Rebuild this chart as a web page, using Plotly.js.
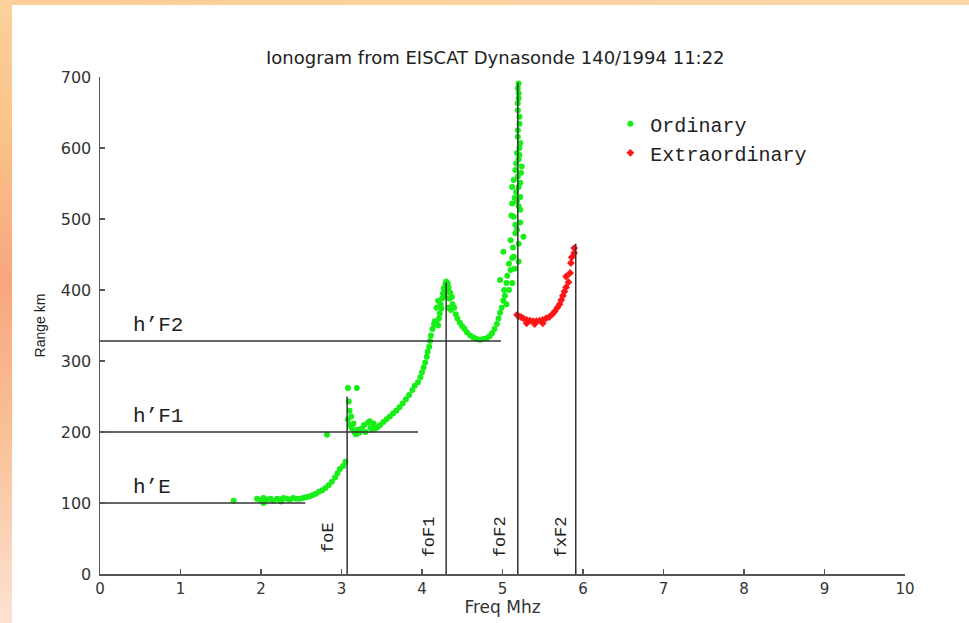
<!DOCTYPE html>
<html>
<head>
<meta charset="utf-8">
<script src="https://cdn.plot.ly/plotly-3.0.1.min.js"></script>
<style>
  html, body { margin:0; padding:0; background:#ffffff; width:969px; height:623px; overflow:hidden; }
  #frameTop { position:absolute; left:0; top:0; width:969px; height:5px;
    background:linear-gradient(to right, #fbcd96, #fdd6a8); }
  #frameLeft { position:absolute; left:0; top:0; width:12px; height:623px;
    background:linear-gradient(to bottom, #fbd19a 0%, #fac28a 22%, #f8a67d 45%, #f9bf93 68%, #fce2d3 100%); }
  #chart { position:absolute; left:12px; top:5px; width:957px; height:618px; }
</style>
</head>
<body>
<div id="frameTop"></div>
<div id="frameLeft"></div>
<div id="chart"></div>
<script>
// ---- Ordinary (O-mode) echoes ----
const ordFreq = [
  1.66,
  1.95,2.0,2.03,2.03,2.08,2.12,2.15,2.2,2.24,2.25,2.28,2.32,2.36,2.4,2.44,2.48,2.52,2.56,2.6,2.64,2.68,2.72,2.76,2.8,2.84,2.88,2.92,2.95,2.98,3.02,3.05,
  2.82,
  3.08,3.19,3.09,3.1,3.08,3.12,3.1,3.13,3.15,3.16,3.18,3.2,3.22,3.25,3.28,3.3,3.33,3.36,3.38,3.42,3.45,3.48,3.52,3.35,3.4,
  3.56,3.6,3.64,3.68,3.72,3.76,3.8,3.84,3.88,3.91,3.95,3.98,4.0,4.02,4.04,4.06,4.07,4.09,4.1,4.11,4.13,4.15,4.18,4.21,4.22,4.24,4.23,4.25,4.26,4.27,4.29,4.3,
  4.32,4.31,4.33,4.35,4.34,4.37,4.38,4.36,4.4,4.42,4.44,4.47,4.5,4.53,4.56,4.6,4.64,4.68,4.72,4.76,4.8,4.84,4.87,4.9,4.93,4.95,4.97,4.99,5.01,5.03,
  4.2,4.18,4.28,4.33,4.2,4.16,
  4.97,5.05,5.02,5.06,5.1,5.08,5.01,5.12,5.14,5.1,5.26,5.18,5.14,5.16,5.22,5.12,5.2,5.22,5.17,5.12,5.22,5.19,5.16,5.24,5.2,5.18,5.21,5.22,5.19,5.19,5.21,5.21,5.19,5.19,5.2,5.2,5.19,5.2,
  5.05,5.08,5.12,5.15,5.2,5.13,5.2,5.16,5.22,5.11,5.18,5.15,5.2,5.14,5.23,5.17,5.21
];
const ordRange = [
  103,
  106,104,107,100,105,106,103,106,105,102,107,106,105,107,106,106,107,108,109,111,113,116,118,121,125,130,136,142,148,152,158,
  196,
  262,262,243,230,218,222,210,205,212,200,197,203,199,205,210,200,213,206,203,205,207,210,214,215,212,
  218,222,226,230,235,240,246,252,259,265,270,277,284,291,298,306,313,320,328,336,345,352,355,360,367,374,380,388,395,402,408,412,
  409,398,403,396,388,390,380,372,375,366,360,354,349,345,340,336,333,331,330,331,332,335,339,345,352,360,368,375,385,392,
  385,375,392,375,350,356,
  414,410,400,420,428,437,454,445,447,470,475,485,503,492,513,522,518,531,538,545,551,560,569,574,584,593,600,607,616,625,634,644,653,663,670,677,684,691,
  380,400,410,430,440,460,465,480,495,505,525,530,545,555,565,578,590
];
// ---- Extraordinary (X-mode) echoes ----
const extFreq = [5.18,5.2,5.23,5.26,5.3,5.34,5.38,5.42,5.46,5.5,5.54,5.58,5.62,5.65,5.68,5.71,5.73,5.75,5.77,5.79,5.82,5.79,5.84,5.85,5.86,5.89,5.89,5.3,5.4,5.5];
const extRange = [365,363,362,360,358,357,356,356,357,358,360,362,366,370,375,380,386,392,398,404,411,419,424,438,446,452,459,353,352,353];

// ---- Virtual heights (h') and critical frequencies ----
const layerNames = ["h’E", "h’F1", "h’F2"];
const layerHeights = [100, 200, 328];
const layerLineEnds = [2.55, 3.95, 4.98];
const critNames = ["foE", "foF1", "foF2", "fxF2"];
const critFreqs = [3.07, 4.30, 5.19, 5.91];
const critTops = [250, 411, 692, 465];

const xTicks = [0,1,2,3,4,5,6,7,8,9,10];
const yTicks = [0,100,200,300,400,500,600,700];

const green = '#18ee18', red = '#ff1515';
const monoFont = 'Liberation Mono, Courier New, monospace';
const sansFont = 'DejaVu Sans, Arial, sans-serif';

// build line segments from the arrays
const hx = [], hy = [];
layerHeights.forEach((h, i) => { hx.push(0, layerLineEnds[i], null); hy.push(h, h, null); });
const vx = [], vy = [];
critFreqs.forEach((f, i) => { vx.push(f, f, null); vy.push(0, critTops[i], null); });

const traces = [
  { x: ordFreq, y: ordRange, type: 'scatter', mode: 'markers', name: 'Ordinary',
    marker: { color: green, size: 6, symbol: 'circle' }, hoverinfo: 'x+y' },
  { x: extFreq, y: extRange, type: 'scatter', mode: 'markers', name: 'Extraordinary',
    marker: { color: red, size: 6, symbol: 'diamond' }, hoverinfo: 'x+y' },
  { x: hx, y: hy, type: 'scatter', mode: 'lines', showlegend: false, hoverinfo: 'skip',
    line: { color: '#333', width: 1.5 } },
  { x: vx, y: vy, type: 'scatter', mode: 'lines', showlegend: false, hoverinfo: 'skip',
    line: { color: '#333', width: 1.5 } }
];

const annotations = [];
layerNames.forEach((n, i) => annotations.push({
  x: 0.38, y: layerHeights[i] + 22, xref: 'x', yref: 'y', text: n, showarrow: false,
  xanchor: 'left', yanchor: 'middle', font: { family: monoFont, size: 21, color: '#222' }
}));
const critLabelOffsets = [0.24, 0.21, 0.22, 0.18];
critNames.forEach((n, i) => annotations.push({
  x: critFreqs[i] - critLabelOffsets[i], y: 52, xref: 'x', yref: 'y', text: n, showarrow: false,
  textangle: -90, xanchor: 'center', yanchor: 'middle', font: { family: monoFont, size: 17, color: '#222' }
}));

const layout = {
  width: 957, height: 618,
  margin: { l: 87.5, r: 64, t: 72, b: 49 },
  paper_bgcolor: '#ffffff', plot_bgcolor: '#ffffff',
  showlegend: true,
  title: { text: 'Ionogram from EISCAT Dynasonde 140/1994 11:22',
    font: { family: sansFont, size: 18, color: '#222' },
    x: 0.505, xanchor: 'center', y: 0.914, yref: 'container', yanchor: 'middle' },
  xaxis: { range: [0, 10], tickvals: xTicks, ticks: 'inside', ticklen: 5, tickwidth: 1.5, tickcolor: '#555',
    showline: true, linecolor: '#555', linewidth: 1.5, showgrid: false, zeroline: false,
    tickfont: { family: sansFont, size: 15, color: '#333' },
    title: { text: 'Freq Mhz', font: { family: sansFont, size: 17, color: '#333' }, standoff: 1 } },
  yaxis: { range: [0, 700], tickvals: yTicks, ticks: 'inside', ticklen: 5, tickwidth: 1.5, tickcolor: '#555',
    showline: true, linecolor: '#555', linewidth: 1.5, showgrid: false, zeroline: false,
    ticklabelstandoff: 4,
    tickfont: { family: sansFont, size: 16, color: '#333' },
    title: { text: 'Range km', font: { family: 'Liberation Sans, Arial, sans-serif', size: 14, color: '#222' }, standoff: 12 } },
  legend: { x: 0.634, y: 0.945, xanchor: 'left', yanchor: 'top', bgcolor: 'rgba(0,0,0,0)',
    font: { family: monoFont, size: 20, color: '#222' }, tracegroupgap: 0 },
  annotations: annotations
};

Plotly.newPlot('chart', traces, layout, { displayModeBar: false, staticPlot: true });
</script>
</body>
</html>
